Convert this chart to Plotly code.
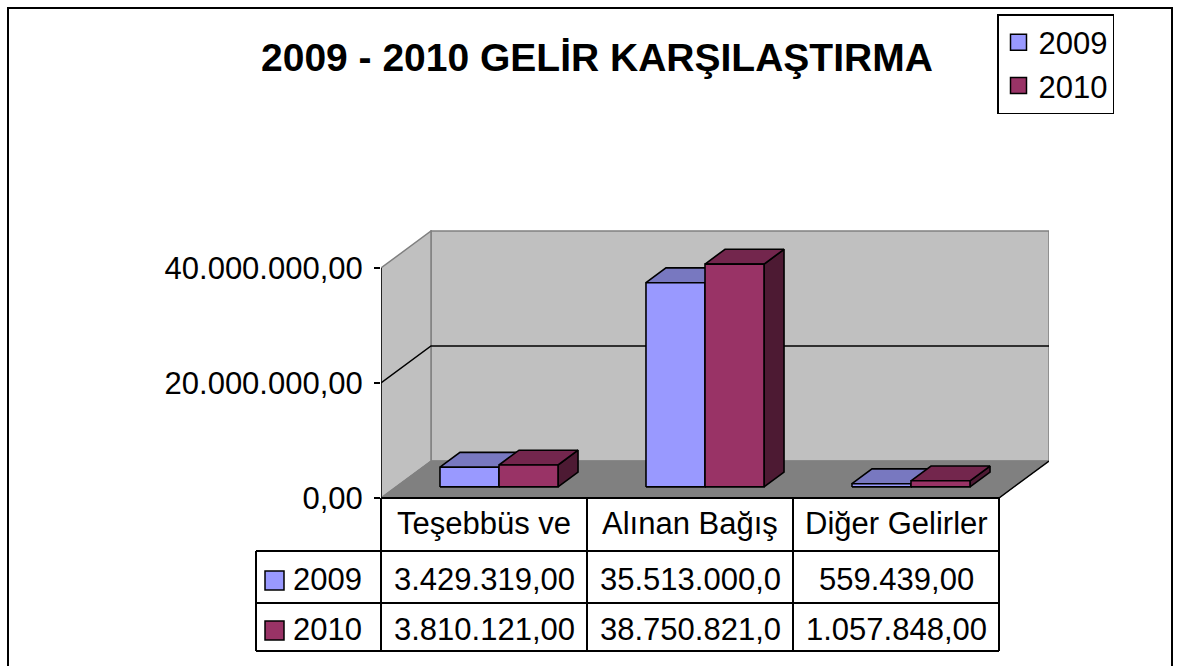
import plotly.graph_objects as go

# ---------------- data ----------------
categories = ["Teşebbüs ve", "Alınan Bağış", "Diğer Gelirler"]
series_names = ["2009", "2010"]
values_2009 = [3429319.00, 35513000.00, 559439.00]
values_2010 = [3810121.00, 38750821.00, 1057848.00]
y_tick_values = [0, 20000000, 40000000]
title_text = "2009 - 2010 GELİR KARŞILAŞTIRMA"

series_values = [values_2009, values_2010]
front_colors = ["#9999FF", "#993366"]
top_colors = ["#7878C0", "#73264D"]
side_colors = ["#4D4D80", "#4D1A33"]

FONT = "Liberation Sans, Arial, sans-serif"

# ---------------- geometry (pixel frame of the plot area) ----------------
W, H = 1180, 666
PL, PR, PT, PB = 381, 1049, 230, 498
UNIT_PX = 206.0                      # pixels per category on the front plane
XMAX = (PR - PL) / UNIT_PX
VAL_PER_PX = 40e6 / 230.0
YMAX = (PB - PT) * VAL_PER_PX
DX = 50 / UNIT_PX                    # full depth offset (x, in category units)
DY = 37 * VAL_PER_PX                 # full depth offset (y, in value units)
F0, F1 = 0.3, 0.7                    # bar depth fractions
BAR_W = 0.2865
GROUP_OFF = 0.5 - BAR_W              # left edge of first bar in a category


def pxx(px):
    return (px - PL) / (PR - PL)


def pxy(py):
    return (PB - py) / (PB - PT)


def ux(u):
    return u / XMAX


def fmt(v):
    s = f"{v:,.2f}"
    return s.replace(",", "X").replace(".", ",").replace("X", ".")


fig = go.Figure()

# ---------------- 3D bars (all faces computed from the data) ----------------
for s, vals in enumerate(series_values):
    sx, sy, tx, ty, fx, fy = [], [], [], [], [], []
    for i, v in enumerate(vals):
        x0 = i + GROUP_OFF + s * BAR_W
        x1 = x0 + BAR_W
        b = F0 * DY
        a0, a1 = F0 * DX, F1 * DX
        d = (F1 - F0) * DY
        # side face
        sx += [x1 + a0, x1 + a1, x1 + a1, x1 + a0, x1 + a0, None]
        sy += [b, b + d, b + d + v, b + v, b, None]
        # top face
        tx += [x0 + a0, x1 + a0, x1 + a1, x0 + a1, x0 + a0, None]
        ty += [b + v, b + v, b + v + d, b + v + d, b + v, None]
        # front face
        fx += [x0 + a0, x1 + a0, x1 + a0, x0 + a0, x0 + a0, None]
        fy += [b, b, b + v, b + v, b, None]
    for xs, ys, col in [(sx, sy, side_colors[s]), (tx, ty, top_colors[s]), (fx, fy, front_colors[s])]:
        fig.add_trace(go.Scatter(
            x=xs, y=ys, mode="lines", fill="toself", fillcolor=col,
            line=dict(color="black", width=1.6), showlegend=False,
            legendgroup=series_names[s], hoverinfo="skip"))

# legend entries
for s, name in enumerate(series_names):
    fig.add_trace(go.Scatter(
        x=[None], y=[None], mode="markers", name=name, legendgroup=name,
        marker=dict(symbol="square", size=16, color=front_colors[s],
                    line=dict(color="black", width=1.5))))

shapes = []
GRAY = "#808080"
# back wall
shapes.append(dict(type="path", layer="below", xref="x", yref="y",
                   path=f"M{DX},{DY} L{3 + DX},{DY} L{3 + DX},{40e6 + DY} L{DX},{40e6 + DY} Z",
                   fillcolor="#C0C0C0", line=dict(color=GRAY, width=1.5)))
# left wall
shapes.append(dict(type="path", layer="below", xref="x", yref="y",
                   path=f"M0,0 L0,40000000 L{DX},{40e6 + DY} L{DX},{DY} Z",
                   fillcolor="#C0C0C0", line=dict(color=GRAY, width=1.5)))
# floor
shapes.append(dict(type="path", layer="below", xref="x", yref="y",
                   path=f"M0,0 L3,0 L{3 + DX},{DY} L{DX},{DY} Z",
                   fillcolor="#808080", line=dict(color=GRAY, width=1)))
# 20M gridline
shapes.append(dict(type="path", layer="below", xref="x", yref="y",
                   path=f"M0,20000000 L{DX},{20e6 + DY} L{3 + DX},{20e6 + DY}",
                   line=dict(color="black", width=1.5)))
# floor right edge
shapes.append(dict(type="line", xref="x", yref="y", x0=3, y0=0, x1=3 + DX, y1=DY,
                   line=dict(color="black", width=1.5)))
# y axis line
shapes.append(dict(type="line", xref="x", yref="y", x0=0, y0=0, x1=0, y1=40e6,
                   line=dict(color="black", width=1.5)))

# ---------------- data table ----------------
row_lines = [551, 603, 651]
col_left = pxx(256)
shapes.append(dict(type="line", xref="paper", yref="paper", x0=ux(0), x1=ux(3),
                   y0=0, y1=0, line=dict(color="black", width=2)))
for py in row_lines:
    shapes.append(dict(type="line", xref="paper", yref="paper", x0=col_left, x1=ux(3),
                       y0=pxy(py), y1=pxy(py), line=dict(color="black", width=2)))
for u in range(4):
    shapes.append(dict(type="line", xref="paper", yref="paper", x0=ux(u), x1=ux(u),
                       y0=0, y1=pxy(651), line=dict(color="black", width=2)))
shapes.append(dict(type="line", xref="paper", yref="paper", x0=col_left, x1=col_left,
                   y0=pxy(551), y1=pxy(651), line=dict(color="black", width=2)))

annotations = []
header_y = 523
row_y = [579, 629]
for i, c in enumerate(categories):
    annotations.append(dict(text=c, x=ux(i + 0.5), y=pxy(header_y), xref="paper", yref="paper",
                            showarrow=False, xanchor="center", yanchor="middle",
                            font=dict(family=FONT, size=31, color="black")))
for s, vals in enumerate(series_values):
    for i, v in enumerate(vals):
        annotations.append(dict(text=fmt(v)[:12], x=ux(i + 0.5), y=pxy(row_y[s]),
                                xref="paper", yref="paper", showarrow=False,
                                xanchor="center", yanchor="middle",
                                font=dict(family=FONT, size=31, color="black")))
    # legend key + name in table
    shapes.append(dict(type="rect", xref="paper", yref="paper",
                       x0=pxx(265), x1=pxx(284), y0=pxy(row_y[s] - 8), y1=pxy(row_y[s] + 11),
                       fillcolor=front_colors[s], line=dict(color="black", width=1.5)))
    annotations.append(dict(text=series_names[s], x=pxx(291), y=pxy(row_y[s]),
                            xref="paper", yref="paper", showarrow=False,
                            xanchor="left", yanchor="middle",
                            font=dict(family=FONT, size=31, color="black")))

# title
annotations.append(dict(text=f"<b>{title_text}</b>", x=pxx(597), y=pxy(58), xref="paper", yref="paper",
                        showarrow=False, xanchor="center", yanchor="middle",
                        font=dict(family=FONT, size=39, color="black")))

# outer chart border
shapes.append(dict(type="path", xref="paper", yref="paper",
                   path=f"M{pxx(8)},{pxy(680)} L{pxx(8)},{pxy(8)} L{pxx(1172)},{pxy(8)} L{pxx(1172)},{pxy(680)}",
                   line=dict(color="black", width=2)))

fig.update_layout(
    width=W, height=H,
    margin=dict(l=PL, r=W - PR, t=PT, b=H - PB, pad=0),
    paper_bgcolor="white", plot_bgcolor="white",
    font=dict(family=FONT, color="black"),
    showlegend=True,
    legend=dict(x=pxx(997), y=pxy(14), xanchor="left", yanchor="top",
                bordercolor="black", borderwidth=1.5, bgcolor="white",
                font=dict(family=FONT, size=31, color="black"),
                tracegroupgap=9, traceorder="normal"),
    xaxis=dict(range=[0, XMAX], visible=False, showgrid=False, zeroline=False, fixedrange=True),
    yaxis=dict(range=[0, YMAX], tickvals=y_tick_values, ticktext=[fmt(v) for v in y_tick_values],
               ticks="outside", ticklen=6, tickwidth=1.5, tickcolor="black",
               showgrid=False, zeroline=False, showline=False, ticklabelstandoff=5,
               tickfont=dict(family=FONT, size=31, color="black"), fixedrange=True),
    shapes=shapes, annotations=annotations,
)

fig.write_html("out.html", config={"displayModeBar": False},
               post_script="document.body.style.margin='0';document.body.style.overflow='hidden';")
